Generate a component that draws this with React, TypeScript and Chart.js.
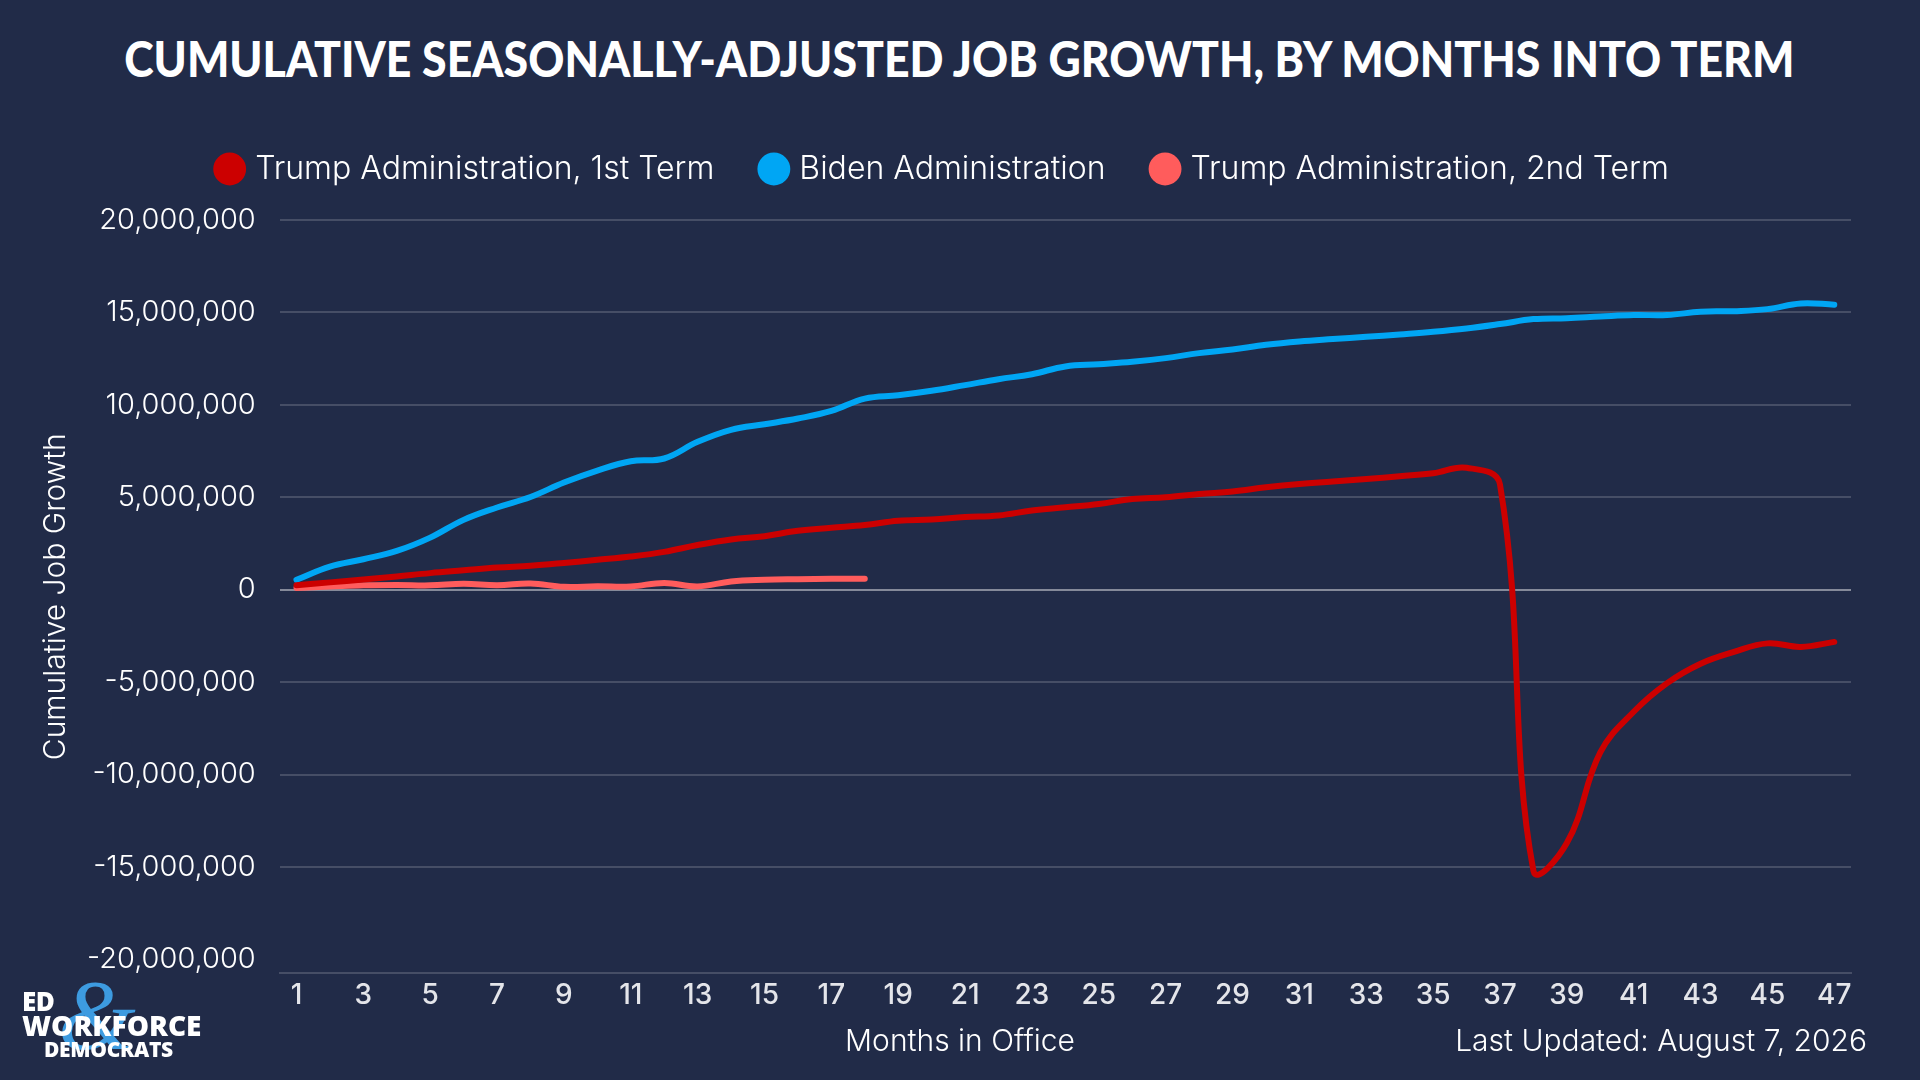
import { useEffect, useRef } from "react"
import { Chart, registerables } from "chart.js"

Chart.register(...registerables)

const months = [
  "1", "2", "3", "4", "5", "6", "7", "8", "9", "10", "11", "12", "13", "14", "15", "16",
  "17", "18", "19", "20", "21", "22", "23", "24", "25", "26", "27", "28", "29", "30", "31", "32",
  "33", "34", "35", "36", "37", "38", "39", "40", "41", "42", "43", "44", "45", "46", "47",
]

const trumpFirst = [
  250000, 400000, 550000, 720000, 900000, 1050000, 1200000, 1300000, 1450000, 1620000,
  1800000, 2050000, 2420000, 2720000, 2900000, 3190000, 3350000, 3500000, 3730000, 3800000,
  3930000, 4020000, 4290000, 4460000, 4640000, 4910000, 5000000, 5180000, 5310000, 5540000,
  5720000, 5850000, 5990000, 6140000, 6300000, 6600000, 5700000, -15200000, -13700000, -8800000,
  -6600000, -5050000, -4000000, -3360000, -2900000, -3090000, -2820000,
]

const biden = [
  540000, 1250000, 1650000, 2100000, 2820000, 3780000, 4450000, 5020000, 5800000, 6450000,
  6950000, 7100000, 8000000, 8650000, 8950000, 9260000, 9670000, 10340000, 10520000, 10760000,
  11070000, 11390000, 11660000, 12080000, 12200000, 12330000, 12530000, 12800000, 13000000, 13250000,
  13430000, 13560000, 13680000, 13810000, 13950000, 14130000, 14370000, 14640000, 14690000, 14780000,
  14860000, 14860000, 15040000, 15070000, 15180000, 15490000, 15420000,
]

const trumpSecond = [
  100000, 170000, 240000, 260000, 240000, 330000, 250000, 340000, 160000, 190000,
  180000, 370000, 180000, 450000, 540000, 570000, 590000, 600000,
]

const yTicks = [
  -20000000, -15000000, -10000000, -5000000, 0, 5000000, 10000000, 15000000, 20000000,
]

const BG = "#212b48"
const GRID = "rgba(255, 255, 255, 0.17)"
const ZERO = "rgba(255, 255, 255, 0.45)"

// squeeze the legend box so the plot starts right under it
const legendHeight = {
  id: "legendHeight",
  beforeInit(chart: any) {
    const fit = chart.legend.fit
    chart.legend.fit = function () {
      fit.call(this)
      this.height = 117
    }
  },
}

function JobsChart() {
  const chartRef = useRef<HTMLCanvasElement>(null)
  const chartInstance = useRef<Chart | null>(null)

  useEffect(() => {
    if (!chartRef.current) return
    if (chartInstance.current) chartInstance.current.destroy()

    Chart.defaults.font.family = "Inter"
    Chart.defaults.color = "#ffffff"

    const line = (label: string, data: number[], color: string) => ({
      label,
      data,
      borderColor: color,
      backgroundColor: color,
      borderWidth: 6,
      borderCapStyle: "round" as const,
      borderJoinStyle: "round" as const,
      pointRadius: 0,
      pointHoverRadius: 0,
      tension: 0.4,
      fill: false,
    })

    chartInstance.current = new Chart(chartRef.current, {
      type: "line",
      data: {
        labels: months,
        datasets: [
          line("Trump Administration, 1st Term", trumpFirst, "#cc0000"),
          line("Biden Administration", biden, "#00a6f4"),
          line("Trump Administration, 2nd Term", trumpSecond, "#ff5c5c"),
        ],
      },
      options: {
        animation: false,
        responsive: true,
        maintainAspectRatio: false,
        layout: { padding: { top: 103, left: 38, right: 69, bottom: 63 } },
        plugins: {
          legend: {
            position: "top",
            labels: {
              usePointStyle: true,
              pointStyle: "circle",
              boxWidth: 19,
              boxHeight: 19,
              padding: 50,
              color: "#ffffff",
              font: { size: 32, weight: 300 },
            },
          },
          tooltip: { enabled: false },
        },
        scales: {
          x: {
            offset: true,
            grid: { display: false, drawTicks: false },
            border: { display: true, color: GRID, width: 2 },
            ticks: {
              autoSkip: false,
              maxRotation: 0,
              padding: 5,
              color: "#e4e5ea",
              font: { size: 28, weight: 500 },
              callback: (_v, i) => (i % 2 === 0 ? months[i] : ""),
            },
          },
          y: {
            min: -20750000,
            max: 20000000,
            afterBuildTicks: (scale) => {
              scale.ticks = yTicks.map((value) => ({ value }))
            },
            grid: {
              drawTicks: false,
              lineWidth: 2,
              color: (ctx) =>
                ctx.tick.value === 0 ? ZERO : ctx.tick.value === -20000000 ? "transparent" : GRID,
            },
            border: { display: false },
            ticks: {
              padding: 24,
              color: "#ffffff",
              font: { size: 29, weight: 300 },
              callback: (v) => Number(v).toLocaleString("en-US"),
            },
            title: {
              display: true,
              text: "Cumulative Job Growth",
              color: "#ffffff",
              font: { size: 30, weight: 300 },
              padding: { top: 0, bottom: -11 },
            },
          },
        },
      },
      plugins: [legendHeight],
    })

    return () => {
      if (chartInstance.current) {
        chartInstance.current.destroy()
        chartInstance.current = null
      }
    }
  }, [])

  return <canvas ref={chartRef} />
}

export default function App() {
  useEffect(() => {
    document.body.style.margin = "0"
    document.body.style.background = BG
  }, [])

  return (
    <div style={{ position: "relative", width: 1920, height: 1080, background: BG, overflow: "hidden" }}>
      <div
        style={{
          position: "absolute",
          top: 31,
          left: 0,
          width: 1920,
          textAlign: "center",
          color: "#ffffff",
          fontFamily: "Lato",
          fontWeight: 900,
          fontSize: 50,
          lineHeight: "54px",
          whiteSpace: "nowrap",
          transform: "scaleX(0.8925)",
          transformOrigin: "954px 0",
        }}
      >
        CUMULATIVE SEASONALLY-ADJUSTED JOB GROWTH, BY MONTHS INTO TERM
      </div>
      <div style={{ position: "absolute", inset: 0 }}>
        <JobsChart />
      </div>
      <div
        style={{
          position: "absolute",
          top: 1022,
          left: 0,
          width: 1920,
          textAlign: "center",
          color: "#ffffff",
          fontFamily: "Inter",
          fontWeight: 300,
          fontSize: 30,
          lineHeight: "36px",
        }}
      >
        Months in Office
      </div>
      <div
        style={{
          position: "absolute",
          top: 1022,
          right: 53,
          color: "#ffffff",
          fontFamily: "Inter",
          fontWeight: 300,
          fontSize: 30,
          lineHeight: "36px",
        }}
      >
        Last Updated: August 7, 2026
      </div>
      <div style={{ position: "absolute", left: 22, top: 980, width: 190, height: 80 }}>
        <div
          style={{
            position: "absolute",
            left: 36,
            top: -15,
            color: "#3d9be0",
            fontFamily: "Liberation Serif",
            fontStyle: "italic",
            fontSize: 100,
            lineHeight: "100px",
          }}
        >
          &amp;
        </div>
        <div
          style={{
            position: "absolute",
            left: 0,
            top: 8,
            color: "#ffffff",
            fontFamily: "Open Sans",
            fontWeight: 800,
            fontSize: 26,
            lineHeight: "26px",
            letterSpacing: -0.5,
          }}
        >
          ED
        </div>
        <div
          style={{
            position: "absolute",
            left: 0,
            top: 31,
            color: "#ffffff",
            fontFamily: "Open Sans",
            fontWeight: 800,
            fontSize: 28,
            lineHeight: "28px",
            letterSpacing: 0,
          }}
        >
          WORKFORCE
        </div>
        <div
          style={{
            position: "absolute",
            left: 22,
            top: 58,
            color: "#ffffff",
            fontFamily: "Open Sans",
            fontWeight: 800,
            fontSize: 21,
            lineHeight: "22px",
            letterSpacing: -0.3,
          }}
        >
          DEMOCRATS
        </div>
      </div>
    </div>
  )
}
